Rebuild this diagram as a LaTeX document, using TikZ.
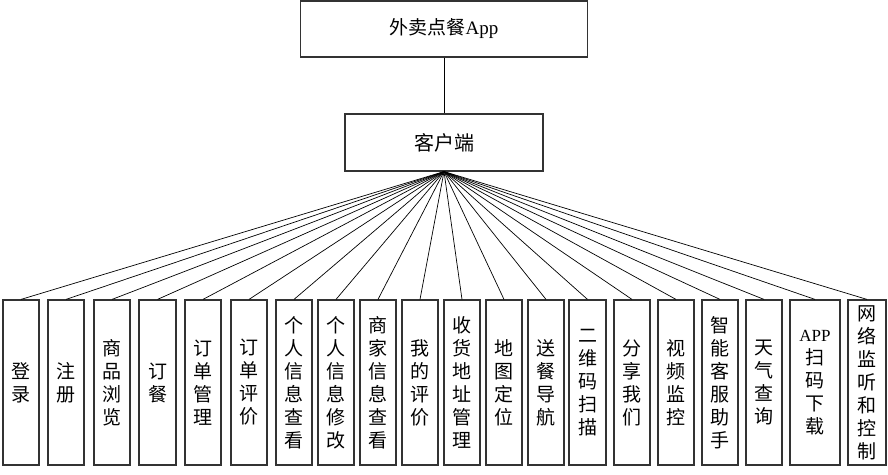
\documentclass[tikz,border=0pt]{standalone}
\usepackage{fontspec}
\setmainfont{Liberation Serif}
\newfontfamily\cjk{Noto Sans CJK SC}
\begin{document}
\begin{tikzpicture}[x=1pt,y=-1pt,
  box/.style={draw=black!80,line width=1.2pt,rectangle,inner sep=0pt,fill=white},
  leaf/.style={box,minimum width=36pt,minimum height=165pt,align=center,
    font=\cjk\fontsize{19}{23}\selectfont},
  conn/.style={draw=black,line width=0.7pt}]
\useasboundingbox (0,0) rectangle (888,474);
\node[box,minimum width=287pt,minimum height=56pt,font=\fontsize{19}{23}\selectfont] (app) at (444,29) {{\cjk 外卖点餐}App};
\node[box,minimum width=198pt,minimum height=57pt,font=\cjk\fontsize{20}{24}\selectfont] (client) at (444,142.5) {客户端};
\draw[conn] (app.south) -- (client.north);
\foreach \n/\x/\w/\t in {
  1/21/36/{登\\录},
  2/66/36/{注\\册},
  3/112/36/{商\\品\\浏\\览},
  4/157.5/37/{订\\餐},
  5/203/36/{订\\单\\管\\理},
  6/249/36/{订\\单\\评\\价},
  7/294/36/{个\\人\\信\\息\\查\\看},
  8/336/36/{个\\人\\信\\息\\修\\改},
  9/378/36/{商\\家\\信\\息\\查\\看},
  10/420/36/{我\\的\\评\\价},
  11/462/36/{收\\货\\地\\址\\管\\理},
  12/504/36/{地\\图\\定\\位},
  13/546/36/{送\\餐\\导\\航},
  14/587.5/37/{二\\维\\码\\扫\\描},
  15/632/36/{分\\享\\我\\们},
  16/676/36/{视\\频\\监\\控},
  17/720/36/{智\\能\\客\\服\\助\\手},
  18/764/36/{天\\气\\查\\询},
  19/815/50/{{\rmfamily\fontsize{17}{23}\selectfont APP}\\扫\\码\\下\\载},
  20/867/38/{网\\络\\监\\听\\和\\控\\制}} {
  \node[leaf,minimum width=\w pt] (b\n) at (\x,382.5) {\t};
  \draw[conn] (client.south) -- (b\n.north);
}
\end{tikzpicture}
\end{document}
